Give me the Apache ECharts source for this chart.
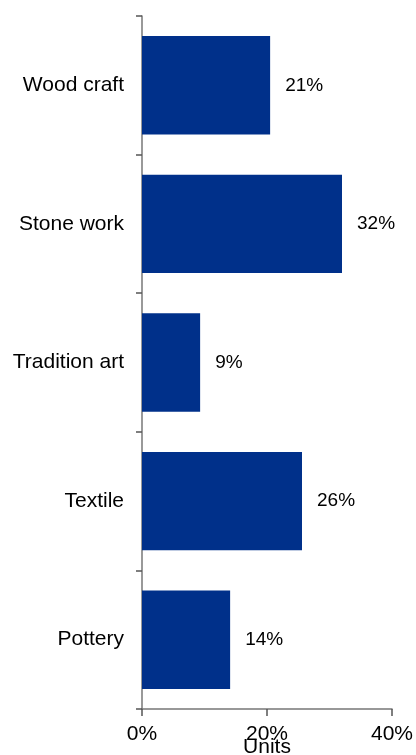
<!DOCTYPE html>
<html>
<head>
<meta charset="utf-8">
<script src="https://cdn.jsdelivr.net/npm/echarts@6/dist/echarts.min.js"></script>
<style>html,body{margin:0;padding:0;background:#fff;}#c{width:416px;height:755px;}</style>
</head>
<body>
<div id="c"></div>
<script>
const categories = ['Wood craft', 'Stone work', 'Tradition art', 'Textile', 'Pottery'];
const values = [20.5, 32, 9.3, 25.6, 14.1];
const labels = ['21%', '32%', '9%', '26%', '14%'];
const xTicks = [0, 20, 40];

const chart = echarts.init(document.getElementById('c'));
chart.setOption({
  animation: false,
  grid: { left: 142, right: 24, top: 16, bottom: 46, containLabel: false, outerBoundsMode: 'none' },
  xAxis: {
    type: 'value', min: xTicks[0], max: xTicks[xTicks.length - 1], interval: 20,
    name: 'Units', nameLocation: 'middle', nameGap: 28, nameMoveOverlap: false,
    nameTextStyle: { fontFamily: 'Liberation Sans', fontSize: 21, color: '#000' },
    axisLine: { show: true, lineStyle: { color: '#777', width: 1.5 } },
    axisTick: { show: true, length: 7, lineStyle: { color: '#555', width: 1.5 } },
    splitLine: { show: false },
    axisLabel: { formatter: v => v + '%', fontFamily: 'Liberation Sans', fontSize: 21, color: '#000', margin: 15 }
  },
  yAxis: {
    type: 'category', data: categories, inverse: true,
    axisLine: { show: true, lineStyle: { color: '#777', width: 1.5 } },
    axisTick: { show: true, length: 6, alignWithLabel: false, lineStyle: { color: '#555', width: 1.5 } },
    axisLabel: { fontFamily: 'Liberation Sans', fontSize: 21, color: '#000', margin: 18 }
  },
  series: [{
    type: 'bar', data: values, barCategoryGap: '29%',
    itemStyle: { color: '#00308A' },
    label: {
      show: true, position: 'right', distance: 15,
      formatter: p => labels[p.dataIndex],
      fontFamily: 'Liberation Sans', fontSize: 19, color: '#000'
    }
  }]
});
</script>
</body>
</html>
